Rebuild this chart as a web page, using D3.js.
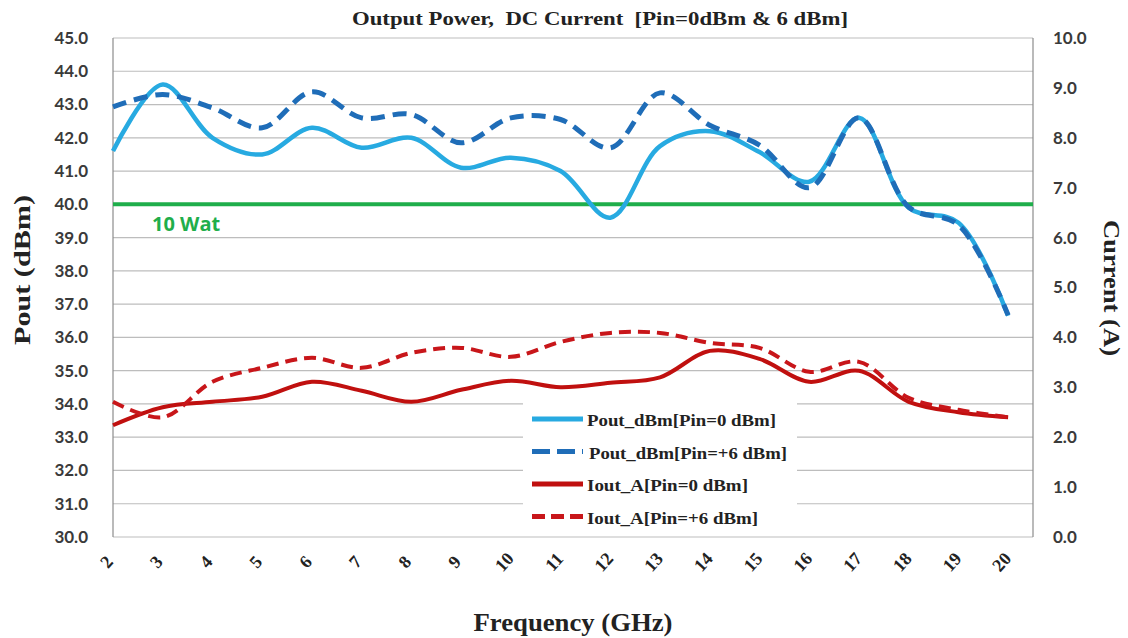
<!DOCTYPE html>
<html>
<head>
<meta charset="utf-8">
<script src="https://cdn.jsdelivr.net/npm/d3@7"></script>
<style>
  body { margin: 0; background: #fff; }
  svg { display: block; }
</style>
</head>
<body>
<div id="chart"></div>
<script>
// Frequency points (GHz)
const freq = [2, 3, 4, 5, 6, 7, 8, 9, 10, 11, 12, 13, 14, 15, 16, 17, 18, 19, 20];

// Output power, dBm (left axis)
const poutPin0 = [41.6, 43.6, 42.0, 41.5, 42.3, 41.7, 42.0, 41.1, 41.4, 41.0, 39.6, 41.75, 42.2, 41.57, 40.68, 42.6, 39.9, 39.45, 36.65];
const poutPin6 = [42.93, 43.3, 42.9, 42.3, 43.38, 42.6, 42.7, 41.85, 42.6, 42.55, 41.7, 43.35, 42.38, 41.78, 40.5, 42.6, 39.92, 39.38, 36.67];

// DC current, A (right axis)
const ioutPin0 = [2.24, 2.6, 2.71, 2.81, 3.11, 2.93, 2.71, 2.95, 3.13, 3.0, 3.09, 3.2, 3.73, 3.57, 3.11, 3.33, 2.71, 2.5, 2.4];
const ioutPin6 = [2.71, 2.4, 3.11, 3.39, 3.59, 3.39, 3.69, 3.79, 3.61, 3.91, 4.09, 4.09, 3.89, 3.79, 3.31, 3.51, 2.79, 2.55, 2.4];

// 10 W reference level
const tenWatt = 40;

const leftTicks = d3.range(30, 45.01, 1);
const rightTicks = d3.range(0, 10.01, 1);

const serif = "'Liberation Serif', 'Times New Roman', serif";
const sans = "Lato, 'Open Sans', sans-serif";

const width = 1128, height = 638;
const plot = { left: 113, right: 1033, top: 38, bottom: 537 };

const svg = d3.select("#chart")
  .append("svg")
  .attr("width", width)
  .attr("height", height);

const x = d3.scaleLinear()
  .domain([2, 20.5])
  .range([plot.left, plot.right]);

const yL = d3.scaleLinear()
  .domain([30, 45])
  .range([plot.bottom, plot.top]);

const yR = d3.scaleLinear()
  .domain([0, 10])
  .range([plot.bottom, plot.top]);

// Gridlines
svg.append("g")
  .selectAll("line")
  .data(leftTicks)
  .join("line")
  .attr("x1", plot.left)
  .attr("x2", plot.right)
  .attr("y1", d => yL(d))
  .attr("y2", d => yL(d))
  .attr("stroke", "#bdbdbd")
  .attr("stroke-width", 1.2);

// Left / right axis lines
svg.append("line")
  .attr("x1", plot.left).attr("x2", plot.left)
  .attr("y1", plot.top).attr("y2", plot.bottom)
  .attr("stroke", "#8c8c8c").attr("stroke-width", 1.2);
svg.append("line")
  .attr("x1", plot.right).attr("x2", plot.right)
  .attr("y1", plot.top).attr("y2", plot.bottom)
  .attr("stroke", "#8c8c8c").attr("stroke-width", 1.2);

// Left axis labels
const axisL = d3.axisLeft(yL).tickValues(leftTicks).tickFormat(d3.format(".1f")).tickSize(0).tickPadding(25);
const gL = svg.append("g").attr("transform", `translate(${plot.left},0)`).call(axisL);
gL.select(".domain").remove();
gL.selectAll("text")
  .attr("font-family", sans)
  .attr("font-weight", "bold")
  .attr("font-size", "17px")
  .attr("fill", "#3a3a3a");

// Right axis labels
const axisR = d3.axisRight(yR).tickValues(rightTicks).tickFormat(d3.format(".1f")).tickSize(0).tickPadding(20);
const gR = svg.append("g").attr("transform", `translate(${plot.right},0)`).call(axisR);
gR.select(".domain").remove();
gR.selectAll("text")
  .attr("font-family", sans)
  .attr("font-weight", "bold")
  .attr("font-size", "17px")
  .attr("fill", "#3a3a3a");

// Bottom axis labels, rotated
svg.append("g")
  .selectAll("text")
  .data(freq)
  .join("text")
  .attr("transform", d => `translate(${x(d) - 2},566) rotate(-48)`)
  .attr("text-anchor", "middle")
  .attr("font-family", serif)
  .attr("font-weight", "bold")
  .attr("font-size", "18px")
  .attr("fill", "#222")
  .text(d => d);

// 10 W line
svg.append("path")
  .attr("d", d3.line().x(d => x(d)).y(() => yL(tenWatt))([2, 20.5]))
  .attr("stroke", "#1fae4b")
  .attr("stroke-width", 4)
  .attr("fill", "none");

svg.append("text")
  .attr("x", 152)
  .attr("y", 231)
  .attr("font-family", "'Open Sans', sans-serif")
  .attr("font-weight", "bold")
  .attr("font-size", "20px")
  .attr("fill", "#1fae4b")
  .text("10 Wat");

// Legend background (hides gridlines behind it)
svg.append("rect")
  .attr("x", 523)
  .attr("y", 396)
  .attr("width", 274)
  .attr("height", 136)
  .attr("fill", "#fff");

// Series
const series = [
  { name: "Pout_dBm[Pin=0 dBm]", values: poutPin0, y: yL, color: "#27aae1", width: 4.5, dash: null, textLen: 189 },
  { name: "Pout_dBm[Pin=+6 dBm]", values: poutPin6, y: yL, color: "#1f6db8", width: 5, dash: "14,8", textLen: 198 },
  { name: "Iout_A[Pin=0 dBm]", values: ioutPin0, y: yR, color: "#c0100f", width: 4, dash: null, textLen: 161 },
  { name: "Iout_A[Pin=+6 dBm]", values: ioutPin6, y: yR, color: "#c8161a", width: 4, dash: "12,7", textLen: 171 }
];

const drawOrder = [2, 3, 0, 1];
drawOrder.forEach(i => {
  const s = series[i];
  const line = d3.line()
    .x((d, j) => x(freq[j]))
    .y(d => s.y(d))
    .curve(d3.curveCatmullRom.alpha(0.5));
  svg.append("path")
    .attr("d", line(s.values))
    .attr("fill", "none")
    .attr("stroke", s.color)
    .attr("stroke-width", s.width)
    .attr("stroke-dasharray", s.dash)
    .attr("stroke-linejoin", "round");
});

// Legend entries
const legend = svg.append("g").attr("transform", "translate(532,419)");
series.forEach((s, i) => {
  const row = legend.append("g").attr("transform", `translate(0,${i * 32.5})`);
  row.append("line")
    .attr("x1", 0).attr("x2", 51)
    .attr("y1", 0).attr("y2", 0)
    .attr("stroke", s.color)
    .attr("stroke-width", 5)
    .attr("stroke-dasharray", i === 1 ? "18,7" : (i === 3 ? "13,6" : null));
  row.append("text")
    .attr("x", i === 1 ? 57 : 55)
    .attr("y", 7)
    .attr("font-family", serif)
    .attr("font-weight", "bold")
    .attr("font-size", "17px")
    .attr("fill", "#222")
    .attr("textLength", s.textLen)
    .attr("lengthAdjust", "spacingAndGlyphs")
    .text(s.name);
});

// Titles
svg.append("text")
  .attr("x", 600)
  .attr("y", 25)
  .attr("text-anchor", "middle")
  .attr("font-family", serif)
  .attr("font-weight", "bold")
  .attr("font-size", "19px")
  .attr("fill", "#222")
  .attr("textLength", 496)
  .attr("lengthAdjust", "spacingAndGlyphs")
  .style("white-space", "pre")
  .text("Output Power,  DC Current  [Pin=0dBm & 6 dBm]");

svg.append("text")
  .attr("transform", "translate(30,270) rotate(-90)")
  .attr("text-anchor", "middle")
  .attr("font-family", serif)
  .attr("font-weight", "bold")
  .attr("font-size", "23px")
  .attr("fill", "#222")
  .attr("textLength", 150)
  .attr("lengthAdjust", "spacingAndGlyphs")
  .text("Pout (dBm)");

svg.append("text")
  .attr("transform", "translate(1104,288) rotate(90)")
  .attr("text-anchor", "middle")
  .attr("font-family", serif)
  .attr("font-weight", "bold")
  .attr("font-size", "23px")
  .attr("fill", "#222")
  .attr("textLength", 136)
  .attr("lengthAdjust", "spacingAndGlyphs")
  .text("Current (A)");

svg.append("text")
  .attr("x", 573)
  .attr("y", 631)
  .attr("text-anchor", "middle")
  .attr("font-family", serif)
  .attr("font-weight", "bold")
  .attr("font-size", "25px")
  .attr("fill", "#222")
  .attr("textLength", 199)
  .attr("lengthAdjust", "spacingAndGlyphs")
  .text("Frequency (GHz)");
</script>
</body>
</html>
